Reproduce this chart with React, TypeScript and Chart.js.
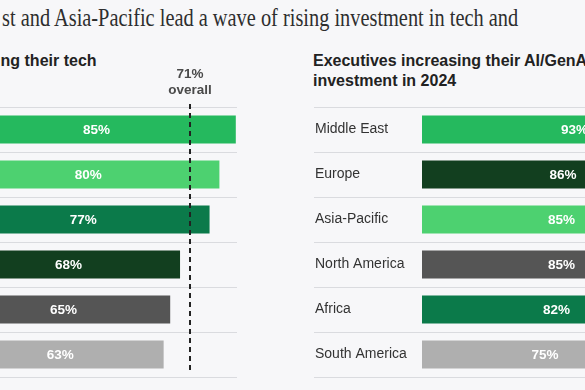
import React, { useEffect, useLayoutEffect, useRef, useState } from "react";
import { Chart, registerables } from "chart.js";

Chart.register(...registerables);

// ---- Data ----
const titleText = "st and Asia-Pacific lead a wave of rising investment in tech and";
const techSubtitle = ["Executives increasing their tech", "investment in 2024"];
const aiSubtitle = ["Executives increasing their AI/GenAI", "investment in 2024"];

const techRegions = ["Middle East", "Asia-Pacific", "Africa", "Europe", "North America", "South America"];
const techValues = [85, 80, 77, 68, 65, 63];
const techOverall = 71;

const aiRegions = ["Middle East", "Europe", "Asia-Pacific", "North America", "Africa", "South America"];
const aiValues = [93, 86, 85, 85, 82, 75];

const regionColors: Record<string, string> = {
  "Middle East": "#25b95e",
  "Asia-Pacific": "#4dd170",
  "Africa": "#0b7a4a",
  "Europe": "#123f1f",
  "North America": "#555555",
  "South America": "#afafaf",
};

const SANS = '"Liberation Sans", Arial, sans-serif';
const SERIF = '"Liberation Serif", "Times New Roman", serif';

function FitText({ text, width, style }: { text: string; width: number; style: React.CSSProperties }) {
  const ref = useRef<HTMLSpanElement>(null);
  const [scale, setScale] = useState(1);
  useLayoutEffect(() => {
    if (ref.current) {
      const w = ref.current.offsetWidth;
      if (w > 0) setScale(width / w);
    }
  }, [text, width]);
  return (
    <span
      ref={ref}
      style={{
        ...style,
        display: "inline-block",
        whiteSpace: "nowrap",
        transform: `scaleX(${scale})`,
        transformOrigin: "left top",
      }}
    >
      {text}
    </span>
  );
}

function BarPanel({
  left,
  width,
  labels,
  values,
  overall,
}: {
  left: number;
  width: number;
  labels: string[];
  values: number[];
  overall?: number;
}) {
  const ref = useRef<HTMLCanvasElement>(null);
  useEffect(() => {
    if (!ref.current) return;
    const labelStart = 15;
    const axisWidth = 107;
    const pxPerPct = 3.28;
    const areaWidth = width - labelStart - axisWidth;
    const colors = labels.map((l) => regionColors[l]);

    const plugin = {
      id: "decor",
      beforeDatasetsDraw(chart: any) {
        const ctx = chart.ctx;
        const { top, bottom, right } = chart.chartArea;
        const yScale = chart.scales.y;
        const n = labels.length;
        ctx.save();
        ctx.strokeStyle = "#dadbdf";
        ctx.lineWidth = 1;
        for (let i = 0; i <= n; i++) {
          const y = Math.round(top + (i * (bottom - top)) / n) + 0.5;
          ctx.beginPath();
          ctx.moveTo(yScale.left - 1, y);
          ctx.lineTo(right, y);
          ctx.stroke();
        }
        ctx.restore();
      },
      afterDatasetsDraw(chart: any) {
        const ctx = chart.ctx;
        const meta = chart.getDatasetMeta(0);
        ctx.save();
        ctx.font = `bold 13.5px ${SANS}`;
        ctx.fillStyle = "#ffffff";
        ctx.textAlign = "center";
        ctx.textBaseline = "middle";
        meta.data.forEach((bar: any, i: number) => {
          const p = bar.getProps(["x", "y", "base"], true);
          ctx.fillText(`${values[i]}%`, (p.x + p.base) / 2, p.y + 1);
        });
        if (overall !== undefined) {
          const x = Math.round(chart.scales.x.getPixelForValue(overall));
          ctx.strokeStyle = "#222222";
          ctx.lineWidth = 2;
          ctx.setLineDash([5, 4]);
          ctx.beginPath();
          ctx.moveTo(x, 104);
          ctx.lineTo(x, 371);
          ctx.stroke();
          ctx.setLineDash([]);
          ctx.fillStyle = "#4a4a4a";
          ctx.font = `bold 13.5px ${SANS}`;
          ctx.fillText(`${overall}%`, x, 74);
          ctx.fillText("overall", x, 90);
        }
        ctx.restore();
      },
    };

    const chart = new Chart(ref.current, {
      type: "bar",
      data: {
        labels,
        datasets: [
          {
            data: values,
            backgroundColor: colors,
            borderWidth: 0,
            barPercentage: 0.62,
            categoryPercentage: 1,
          },
        ],
      },
      options: {
        indexAxis: "y",
        responsive: false,
        maintainAspectRatio: false,
        animation: false,
        layout: { padding: { top: 107, bottom: 13, left: labelStart, right: 0 } },
        plugins: { legend: { display: false }, tooltip: { enabled: false } },
        scales: {
          x: { display: false, min: 0, max: areaWidth / pxPerPct },
          y: {
            grid: { display: false },
            border: { display: false },
            ticks: {
              color: "#333333",
              font: { family: SANS, size: 14 },
              crossAlign: "far",
              padding: 0,
            },
            afterFit: (s: any) => {
              s.width = axisWidth;
            },
          },
        },
      },
      plugins: [plugin],
    } as any);
    return () => chart.destroy();
  }, []);
  return (
    <canvas
      ref={ref}
      width={width}
      height={390}
      style={{ position: "absolute", left, top: 0, width, height: 390 }}
    />
  );
}

export default function App() {
  const subStyle: React.CSSProperties = {
    position: "absolute",
    top: 51,
    font: `bold 16px ${SANS}`,
    lineHeight: "20px",
    color: "#222222",
    whiteSpace: "nowrap",
  };
  return (
    <div
      style={{
        position: "fixed",
        left: 0,
        top: 0,
        width: 585,
        height: 390,
        overflow: "hidden",
        background: "#f7f7f9",
      }}
    >
      <div style={{ position: "absolute", left: 2, top: 5 }}>
        <FitText
          text={titleText}
          width={516}
          style={{ font: `26px ${SERIF}`, lineHeight: "26px", color: "#2e2e2e" }}
        />
      </div>
      <div style={{ ...subStyle, left: -148 }}>
        {techSubtitle.map((t) => (
          <div key={t}>{t}</div>
        ))}
      </div>
      <div style={{ ...subStyle, left: 313 }}>
        {aiSubtitle.map((t) => (
          <div key={t}>{t}</div>
        ))}
      </div>
      <BarPanel left={-165} width={402} labels={techRegions} values={techValues} overall={techOverall} />
      <BarPanel left={300} width={500} labels={aiRegions} values={aiValues} />
    </div>
  );
}
